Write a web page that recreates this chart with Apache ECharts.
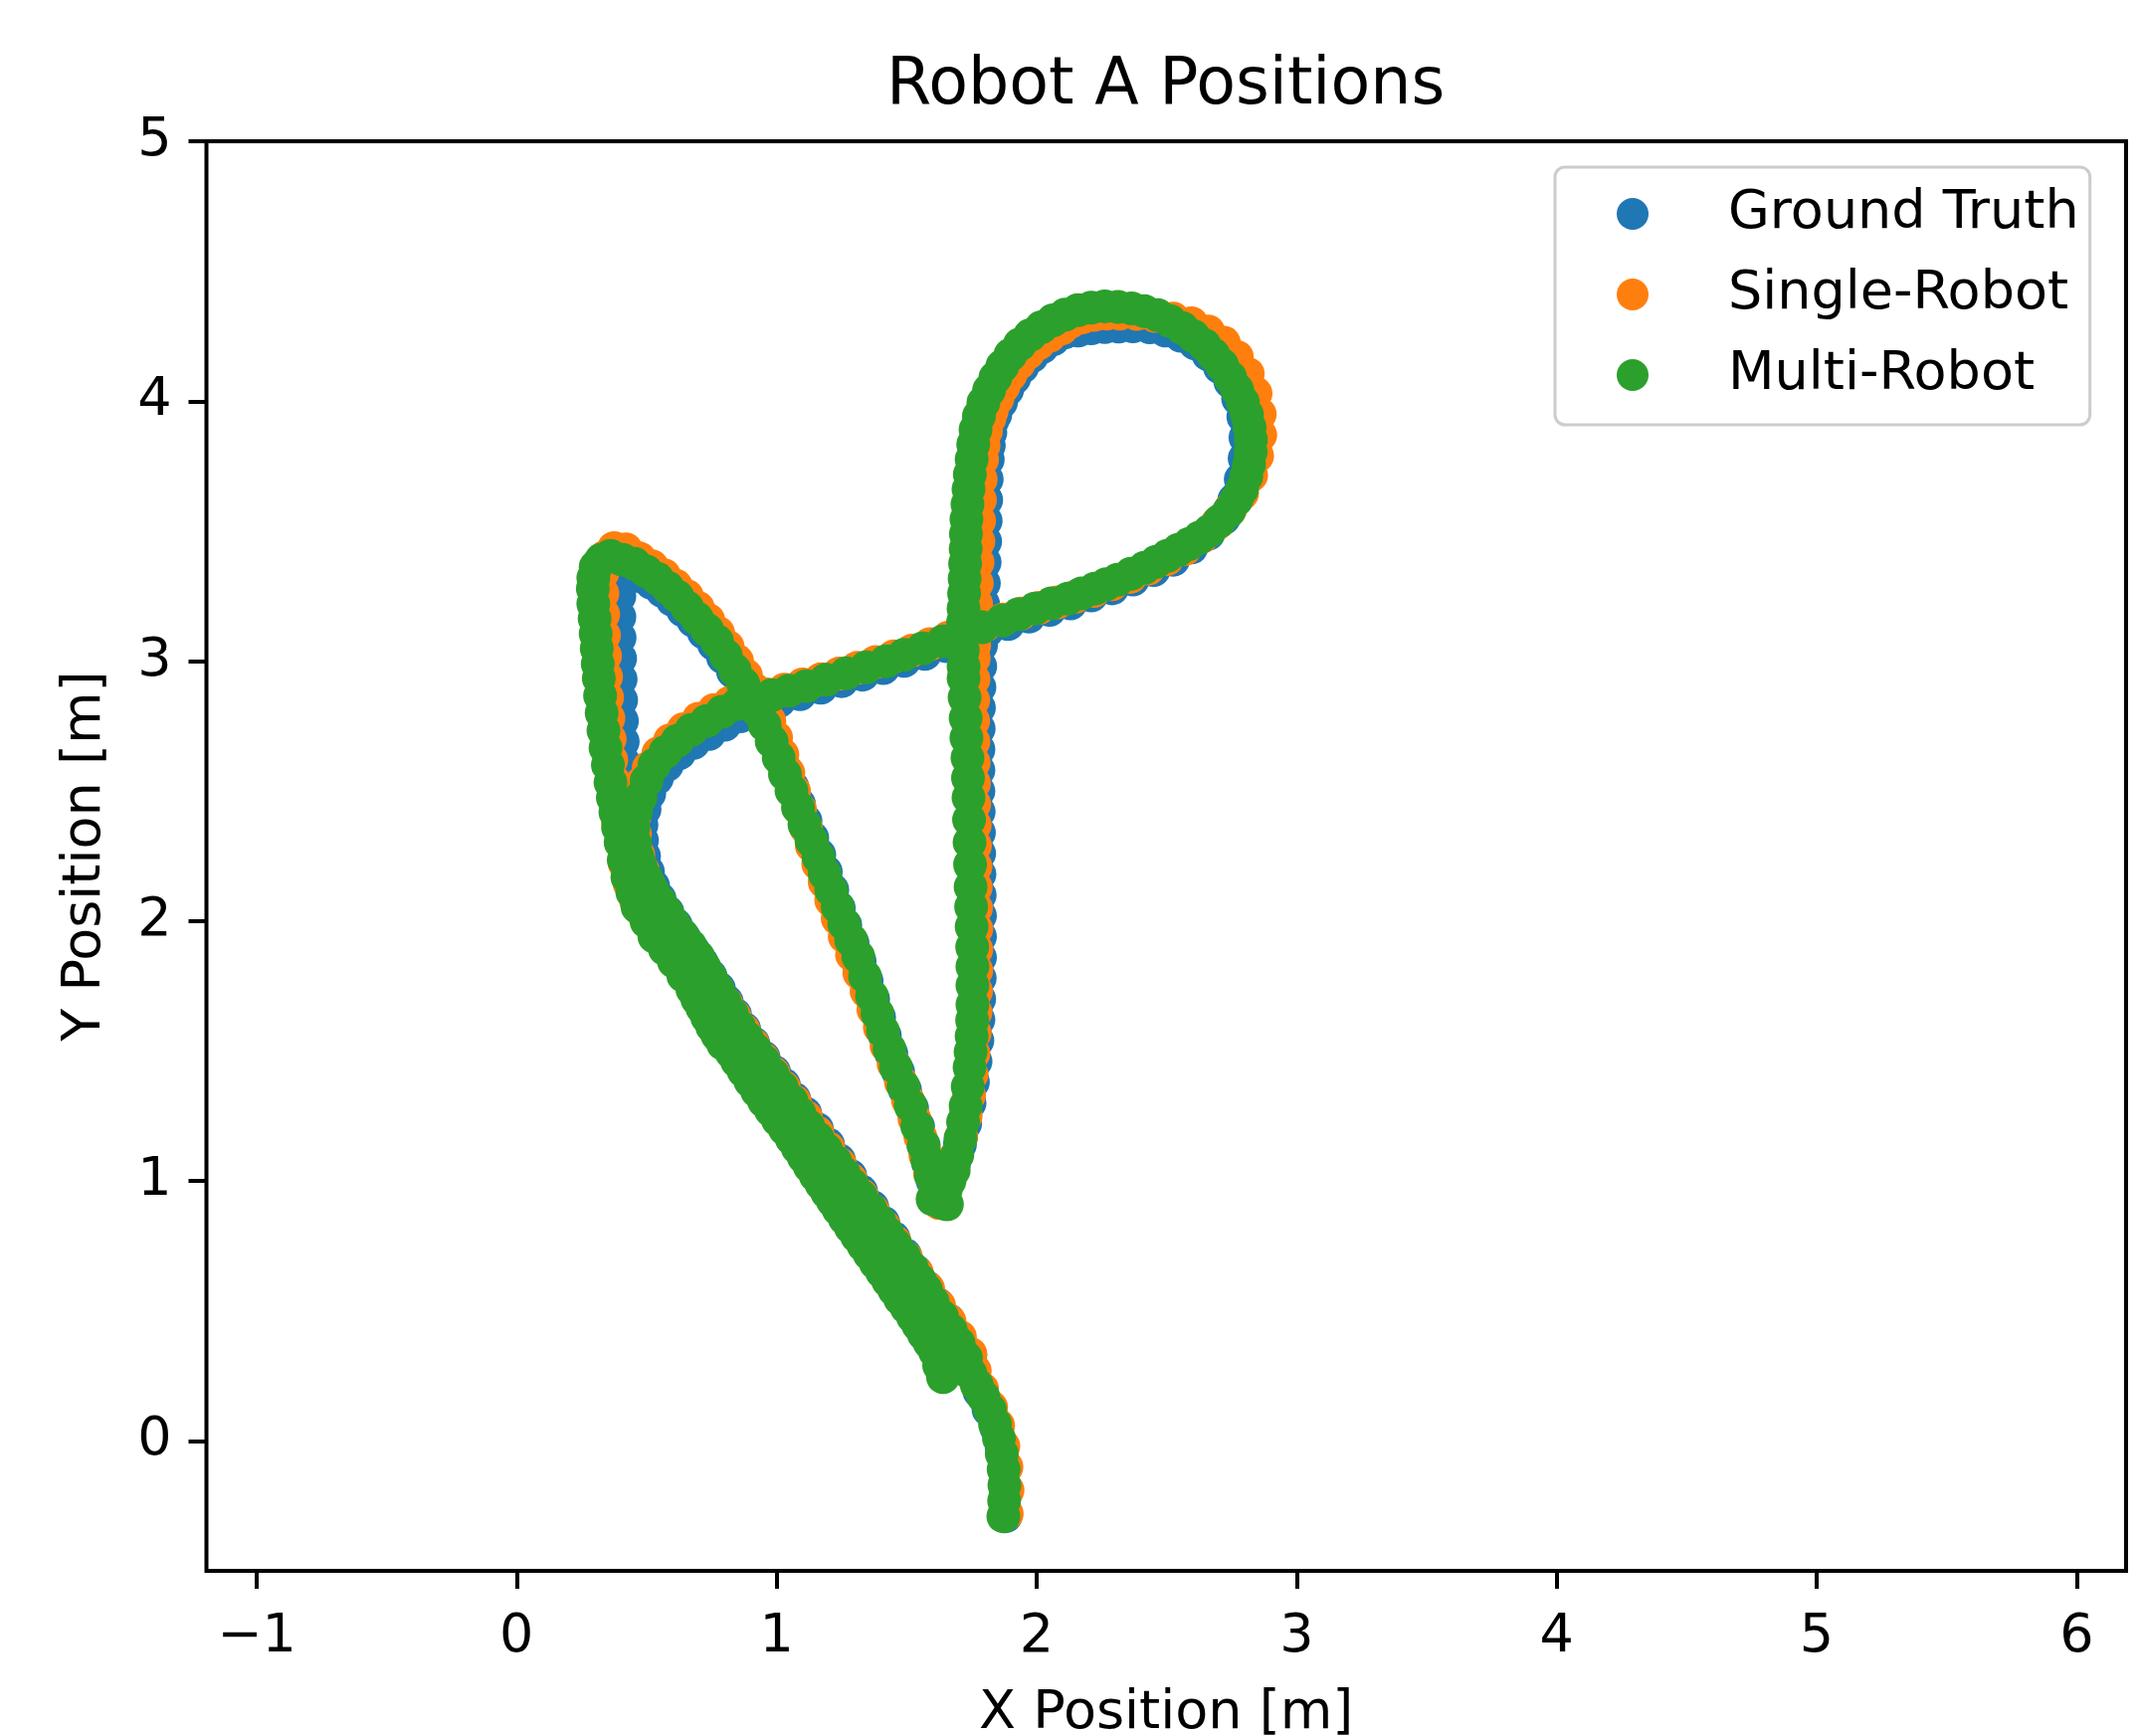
<!DOCTYPE html>
<html><head><meta charset="utf-8">
<script src="https://cdn.jsdelivr.net/npm/echarts@6/dist/echarts.min.js"></script>
<style>html,body{margin:0;padding:0;background:#fff}#c{width:2151px;height:1745px}</style>
</head><body><div id="c"></div>
<script>
const titleText = 'Robot A Positions';
const xAxisName = 'X Position [m]';
const yAxisName = 'Y Position [m]';
const seriesNames = ['Ground Truth', 'Single-Robot', 'Multi-Robot'];
const xTicks = [-1, 0, 1, 2, 3, 4, 5, 6];
const yTicks = [0, 1, 2, 3, 4, 5];

const groundTruth = [
[1.88,-0.29],[1.882,-0.20],[1.878,-0.11],[1.866,-0.03],[1.845,0.05],[1.815,0.12],[1.78,0.19],[1.755,0.26],
[1.745,0.33],[1.70,0.40],[1.66,0.465],[1.62,0.525],[1.578,0.59],[1.537,0.65],[1.494,0.715],[1.45,0.78],[1.41,0.84],[1.368,0.90],[1.325,0.96],[1.283,1.02],[1.24,1.08],[1.198,1.14],[1.155,1.20],[1.11,1.26],[1.068,1.315],[1.028,1.37],[0.99,1.42],[0.95,1.475],[0.91,1.53],[0.875,1.585],[0.84,1.64],[0.808,1.69],[0.778,1.74],[0.745,1.79],[0.712,1.84],[0.68,1.885],[0.645,1.935],[0.612,1.985],[0.58,2.035],[0.55,2.085],[0.525,2.135],[0.505,2.19],[0.49,2.25],[0.482,2.31],[0.48,2.37],[0.492,2.43],[0.51,2.49],[0.54,2.55],[0.578,2.60],[0.625,2.645],[0.68,2.685],[0.74,2.72],[0.80,2.755],[0.86,2.788],
[0.93,2.821],[1.01,2.847],[1.09,2.873],[1.17,2.898],[1.25,2.923],[1.33,2.948],[1.41,2.973],[1.49,3.001],[1.57,3.028],[1.65,3.058],[1.73,3.088],[1.81,3.117],[1.89,3.143],[1.97,3.171],[2.05,3.197],[2.13,3.222],[2.21,3.253],[2.29,3.28],[2.37,3.314],[2.45,3.35],[2.525,3.39],[2.595,3.437],[2.66,3.49],
[2.72,3.55],[2.76,3.62],[2.785,3.70],[2.80,3.78],[2.803,3.86],[2.795,3.94],[2.775,4.01],[2.745,4.075],[2.705,4.13],[2.66,4.18],[2.61,4.222],[2.555,4.252],[2.495,4.272],[2.435,4.284],[2.37,4.288],[2.315,4.287],[2.262,4.285],[2.21,4.28],[2.16,4.272],[2.109,4.265],[2.064,4.238],[2.021,4.208],[1.981,4.172],[1.945,4.132],[1.914,4.089],[1.887,4.044],[1.863,3.996],[1.841,3.948],[1.83,3.925],[1.822,3.88],[1.816,3.83],[1.812,3.775],[1.808,3.70],[1.806,3.62],[1.804,3.54],[1.802,3.46],[1.80,3.38],[1.797,3.30],[1.794,3.22],[1.79,3.14],[1.786,3.06],
[1.783,2.98],[1.78,2.90],[1.778,2.82],[1.777,2.74],[1.776,2.66],[1.776,2.58],[1.776,2.50],[1.777,2.42],[1.778,2.34],[1.779,2.26],[1.78,2.18],[1.781,2.10],[1.782,2.02],[1.782,1.94],[1.782,1.86],[1.781,1.78],[1.779,1.70],[1.776,1.62],[1.772,1.54],[1.765,1.46],[1.755,1.38],[1.742,1.30],[1.725,1.22],[1.705,1.14],[1.682,1.065],[1.657,0.995],[1.632,0.935],
[1.62,0.93],[1.60,1.0],[1.582,1.07],[1.564,1.14],[1.544,1.21],[1.521,1.28],[1.494,1.35],[1.467,1.42],[1.441,1.49],[1.416,1.56],[1.394,1.63],[1.371,1.70],[1.346,1.77],[1.319,1.845],[1.292,1.915],[1.264,1.985],[1.239,2.05],[1.214,2.12],[1.189,2.19],[1.164,2.255],[1.137,2.32],[1.111,2.385],[1.086,2.45],[1.061,2.515],[1.036,2.58],[1.011,2.64],[0.984,2.70],[0.956,2.76],[0.929,2.81],[0.899,2.86],[0.866,2.91],[0.832,2.96],[0.794,3.015],[0.759,3.065],[0.72,3.11],[0.68,3.155],[0.64,3.195],[0.60,3.235],[0.56,3.27],[0.52,3.30],[0.48,3.325],
[0.445,3.335],[0.41,3.31],[0.395,3.25],[0.395,3.17],[0.396,3.09],[0.398,3.01],[0.40,2.93],[0.402,2.85],[0.405,2.77],[0.408,2.69],[0.412,2.61],[0.418,2.53],[0.425,2.45],[0.433,2.37],[0.443,2.29],[0.455,2.21],[0.47,2.14],
[0.49,2.07],[0.515,2.01],[0.55,1.955],[0.593,1.90],[0.63,1.85],[0.668,1.795],[0.705,1.74],[0.74,1.685],[0.777,1.63],[0.815,1.572],[0.862,1.513],[0.91,1.455],[0.95,1.397],[0.99,1.34],[1.032,1.28],[1.075,1.22],[1.117,1.16],[1.16,1.10],[1.203,1.04],[1.245,0.98],[1.287,0.92],[1.33,0.86],[1.373,0.80],[1.415,0.74],[1.457,0.68],[1.50,0.62],[1.542,0.56],[1.583,0.50],[1.623,0.44],[1.65,0.38],[1.665,0.32]
];

const singleRobot = [
[1.885,-0.28],[1.888,-0.19],[1.884,-0.10],[1.872,-0.02],[1.852,0.06],[1.825,0.13],[1.79,0.20],[1.762,0.27],
[1.745,0.335],[1.705,0.40],[1.665,0.46],[1.625,0.52],[1.583,0.585],[1.54,0.645],[1.498,0.705],[1.455,0.765],[1.413,0.825],[1.37,0.885],[1.327,0.945],[1.285,1.005],[1.243,1.065],[1.20,1.125],[1.157,1.185],[1.113,1.245],[1.07,1.305],[1.028,1.36],[0.988,1.415],[0.948,1.47],[0.91,1.525],[0.873,1.58],[0.838,1.635],[0.805,1.685],[0.773,1.735],[0.74,1.785],[0.705,1.835],[0.67,1.885],[0.635,1.935],[0.60,1.985],[0.565,2.035],[0.535,2.085],[0.508,2.14],[0.485,2.195],[0.468,2.255],
[0.455,2.335],[0.452,2.40],[0.462,2.465],[0.48,2.53],[0.508,2.59],[0.545,2.645],[0.59,2.695],[0.642,2.738],[0.70,2.778],[0.76,2.812],[0.82,2.84],
[0.89,2.855],[0.96,2.872],[1.03,2.89],[1.10,2.91],[1.17,2.93],[1.24,2.952],[1.31,2.974],[1.38,2.996],[1.45,3.018],[1.52,3.04],[1.59,3.065],[1.66,3.09],[1.73,3.113],[1.80,3.136],[1.87,3.16],[1.94,3.183],[2.01,3.205],[2.08,3.226],[2.15,3.248],[2.22,3.27],[2.29,3.296],[2.36,3.324],[2.43,3.356],[2.50,3.392],[2.57,3.432],[2.635,3.478],[2.695,3.53],
[2.745,3.585],[2.79,3.645],[2.825,3.715],[2.848,3.79],[2.86,3.87],[2.858,3.95],[2.842,4.03],[2.812,4.105],[2.77,4.17],[2.72,4.225],[2.66,4.268],[2.595,4.30],[2.525,4.318],[2.455,4.328],[2.385,4.336],[2.32,4.337],[2.27,4.337],[2.22,4.332],[2.175,4.322],[2.13,4.305],[2.095,4.279],[2.05,4.252],[2.007,4.222],[1.967,4.186],[1.931,4.146],[1.90,4.103],[1.873,4.058],[1.849,4.01],[1.827,3.962],[1.818,3.933],[1.805,3.885],[1.796,3.83],[1.79,3.775],[1.785,3.70],[1.782,3.62],[1.779,3.54],[1.776,3.46],[1.773,3.38],[1.77,3.30],[1.767,3.22],[1.763,3.14],[1.76,3.06],
[1.758,3.01],[1.757,2.93],[1.756,2.85],[1.756,2.77],[1.757,2.69],[1.758,2.61],[1.759,2.53],[1.76,2.45],[1.762,2.37],[1.763,2.29],[1.765,2.21],[1.766,2.13],[1.767,2.05],[1.768,1.97],[1.768,1.89],[1.768,1.81],[1.767,1.73],[1.765,1.65],[1.762,1.57],[1.757,1.49],[1.75,1.41],[1.74,1.33],[1.727,1.25],[1.71,1.17],[1.69,1.095],[1.667,1.025],[1.645,0.96],[1.625,0.915],
[1.61,0.96],[1.59,1.03],[1.572,1.10],[1.553,1.17],[1.53,1.24],[1.505,1.31],[1.478,1.38],[1.45,1.45],[1.423,1.52],[1.397,1.59],[1.372,1.66],[1.346,1.73],[1.318,1.80],[1.29,1.87],[1.262,1.94],[1.235,2.01],[1.21,2.08],[1.185,2.15],[1.16,2.22],[1.135,2.29],[1.112,2.36],[1.09,2.43],[1.067,2.50],[1.045,2.57],[1.022,2.64],[0.998,2.705],[0.972,2.77],[0.945,2.83],[0.915,2.89],[0.882,2.945],[0.848,3.0],[0.812,3.055],[0.775,3.108],[0.737,3.158],[0.697,3.205],[0.655,3.25],[0.612,3.29],[0.567,3.33],[0.52,3.365],[0.472,3.395],[0.42,3.43],[0.375,3.435],
[0.34,3.40],[0.33,3.34],[0.33,3.26],[0.333,3.18],[0.336,3.10],[0.34,3.02],[0.344,2.94],[0.348,2.86],[0.353,2.78],[0.358,2.70],[0.364,2.62],[0.372,2.54],[0.38,2.46],[0.39,2.38],[0.402,2.30],[0.416,2.22],[0.434,2.145],
[0.46,2.075],[0.495,2.015],[0.532,1.96],[0.571,1.905],[0.612,1.85],[0.648,1.795],[0.685,1.74],[0.723,1.68],[0.762,1.62],[0.802,1.56],[0.85,1.50],[0.90,1.44],[0.941,1.38],[0.982,1.322],[1.025,1.262],[1.067,1.203],[1.11,1.143],[1.153,1.083],[1.195,1.023],[1.238,0.963],[1.28,0.903],[1.322,0.843],[1.365,0.783],[1.407,0.723],[1.45,0.663],[1.492,0.603],[1.535,0.543],[1.575,0.483],[1.61,0.423],[1.635,0.36],[1.65,0.30]
];

const multiRobot = [
[1.872,-0.29],[1.875,-0.23],[1.876,-0.17],[1.873,-0.11],[1.866,-0.05],[1.855,0.01],[1.84,0.065],[1.82,0.12],[1.795,0.17],[1.77,0.215],[1.745,0.26],
[1.728,0.32],[1.70,0.375],[1.67,0.425],[1.636,0.478],[1.60,0.535],[1.575,0.58],[1.552,0.616],[1.52,0.665],[1.49,0.71],[1.457,0.754],[1.425,0.80],[1.395,0.845],[1.361,0.891],[1.325,0.94],[1.29,0.985],[1.258,1.029],[1.225,1.075],[1.19,1.12],[1.158,1.163],[1.122,1.21],[1.088,1.26],[1.057,1.308],[1.02,1.36],[0.985,1.41],[0.95,1.461],[0.918,1.505],[0.886,1.55],[0.855,1.595],[0.828,1.642],[0.80,1.69],[0.774,1.737],[0.748,1.78],[0.722,1.822],[0.698,1.863],[0.668,1.905],[0.637,1.947],[0.606,1.989],[0.578,2.033],[0.55,2.076],[0.522,2.119],[0.50,2.162],[0.478,2.205],[0.465,2.246],[0.455,2.30],[0.449,2.36],[0.458,2.42],[0.476,2.475],[0.50,2.54],[0.53,2.601],[0.572,2.65],[0.618,2.693],[0.672,2.735],[0.732,2.77],[0.79,2.805],[0.851,2.835],
[0.915,2.853],[0.981,2.869],[1.048,2.886],[1.115,2.904],[1.19,2.928],[1.268,2.953],[1.345,2.976],[1.421,2.999],[1.49,3.024],[1.562,3.049],[1.64,3.076],[1.715,3.103],[1.79,3.13],[1.868,3.156],[1.93,3.18],[1.994,3.202],[2.057,3.222],[2.12,3.24],[2.172,3.26],[2.224,3.279],[2.268,3.296],[2.312,3.313],[2.363,3.336],[2.415,3.359],[2.46,3.382],[2.503,3.405],[2.545,3.428],[2.587,3.451],[2.626,3.475],[2.664,3.50],
[2.703,3.538],[2.74,3.577],[2.768,3.62],[2.79,3.661],[2.806,3.71],[2.817,3.757],[2.823,3.805],[2.824,3.852],[2.819,3.90],[2.809,3.948],[2.793,3.996],[2.771,4.044],[2.744,4.092],[2.713,4.139],[2.68,4.178],[2.645,4.216],[2.603,4.25],[2.56,4.281],[2.513,4.308],[2.465,4.331],[2.415,4.346],[2.365,4.357],[2.313,4.363],[2.262,4.365],[2.21,4.36],[2.159,4.35],[2.11,4.333],[2.063,4.311],[2.018,4.284],[1.975,4.254],[1.935,4.218],[1.899,4.178],[1.868,4.135],[1.841,4.09],[1.817,4.042],[1.795,3.994],[1.778,3.943],[1.765,3.891],[1.756,3.834],[1.75,3.776],[1.743,3.718],[1.738,3.661],[1.734,3.603],[1.73,3.546],[1.728,3.489],[1.727,3.432],[1.725,3.375],[1.723,3.317],[1.721,3.26],[1.719,3.202],[1.717,3.15],[1.715,3.103],
[1.716,3.04],[1.719,2.98],[1.719,2.934],[1.723,2.86],[1.727,2.781],[1.73,2.705],[1.734,2.628],[1.736,2.55],[1.738,2.475],[1.74,2.39],[1.742,2.303],[1.744,2.217],[1.746,2.131],[1.748,2.055],[1.75,1.978],[1.752,1.90],[1.753,1.825],[1.753,1.752],[1.753,1.679],[1.752,1.618],[1.75,1.557],[1.746,1.497],[1.742,1.438],[1.735,1.363],[1.727,1.289],[1.717,1.226],[1.707,1.163],[1.695,1.10],[1.681,1.041],[1.665,1.0],[1.65,0.964],[1.631,0.918],[1.655,0.91],[1.60,0.93],
[1.612,0.97],[1.593,1.021],[1.58,1.08],[1.566,1.136],[1.541,1.21],[1.516,1.289],[1.488,1.363],[1.459,1.438],[1.434,1.507],[1.409,1.576],[1.388,1.643],[1.367,1.71],[1.34,1.787],[1.314,1.863],[1.287,1.926],[1.26,1.989],[1.235,2.054],[1.21,2.119],[1.185,2.182],[1.161,2.246],[1.134,2.309],[1.107,2.372],[1.082,2.437],[1.057,2.502],[1.032,2.565],[1.008,2.628],[0.981,2.691],[0.954,2.754],[0.929,2.806],[0.904,2.858],[0.872,2.912],[0.839,2.965],[0.805,3.02],[0.771,3.076],[0.733,3.12],[0.694,3.164],[0.656,3.206],[0.618,3.248],[0.58,3.283],[0.541,3.317],[0.497,3.346],[0.453,3.374],[0.407,3.39],[0.361,3.405],
[0.325,3.39],[0.304,3.363],[0.295,3.32],[0.293,3.279],[0.295,3.22],[0.30,3.164],[0.304,3.105],[0.308,3.049],[0.312,2.99],[0.316,2.934],[0.321,2.867],[0.327,2.80],[0.334,2.733],[0.342,2.666],[0.351,2.60],[0.361,2.533],[0.37,2.475],[0.38,2.418],[0.39,2.36],[0.40,2.303],[0.412,2.236],[0.426,2.169],[0.445,2.11],
[0.465,2.054],[0.50,1.997],[0.53,1.94],[0.57,1.892],[0.605,1.844],[0.641,1.79],[0.676,1.737],[0.695,1.70],[0.714,1.666],[0.733,1.63],[0.752,1.595],[0.772,1.562],[0.794,1.528],[0.826,1.495],[0.848,1.461],[0.873,1.423],[0.899,1.384],[0.925,1.346],[0.951,1.308],[0.978,1.272],[1.005,1.235],[1.032,1.199],[1.058,1.163],[1.081,1.128],[1.104,1.092],[1.127,1.057],[1.15,1.021],[1.172,0.989],[1.194,0.956],[1.216,0.924],[1.238,0.891],[1.262,0.856],[1.285,0.822],[1.309,0.788],[1.333,0.754],[1.357,0.72],[1.381,0.685],[1.405,0.651],[1.429,0.616],[1.452,0.582],[1.475,0.547],[1.50,0.513],[1.524,0.478],[1.545,0.445],[1.566,0.411],[1.588,0.378],[1.609,0.344],[1.625,0.29],[1.64,0.245]
];

const FONT = 'DejaVu Sans';
const colors = ['#1f77b4', '#ff7f0e', '#2ca02c'];
const seriesData = [groundTruth, singleRobot, multiRobot];
const fmt = v => (v < 0 ? '\u2212' + Math.abs(v) : String(v));

const chart = echarts.init(document.getElementById('c'), null, {renderer: 'canvas', width: 2151, height: 1745});
chart.setOption({
  animation: false,
  backgroundColor: '#ffffff',
  title: {
    text: titleText, left: 891, top: 55, padding: 0,
    textStyle: {fontFamily: FONT, fontSize: 65, fontWeight: 'normal', color: '#000'}
  },
  legend: {
    orient: 'vertical', left: 1563, top: 168, padding: [20, 11, 23, 62],
    itemWidth: 32, itemHeight: 32, itemGap: 27, icon: 'circle',
    backgroundColor: 'rgba(255,255,255,0.8)', borderColor: '#cccccc', borderWidth: 3, borderRadius: 10,
    textStyle: {fontFamily: FONT, fontSize: 54, color: '#000', lineHeight: 54, padding: [0, 0, 0, 75]},
    data: seriesNames, selectedMode: false
  },
  grid: {left: 207.5, right: 14, top: 142, bottom: 166, show: true, borderColor: '#000', borderWidth: 4, backgroundColor: 'transparent', outerBoundsMode: 'none', containLabel: false},
  xAxis: {
    type: 'value', min: -1.193, max: 6.19,
    splitLine: {show: false}, axisLine: {show: false, onZero: false},
    axisTick: {show: true, length: 18, lineStyle: {color: '#000', width: 4}, customValues: xTicks},
    axisLabel: {customValues: xTicks, margin: 40, fontSize: 54, fontFamily: FONT, color: '#000', formatter: fmt},
    name: xAxisName, nameLocation: 'middle', nameGap: 117,
    nameTextStyle: {fontFamily: FONT, fontSize: 54, color: '#000'}
  },
  yAxis: {
    type: 'value', min: -0.5, max: 5,
    splitLine: {show: false}, axisLine: {show: false, onZero: false},
    axisTick: {show: true, length: 18, lineStyle: {color: '#000', width: 4}, customValues: yTicks},
    axisLabel: {customValues: yTicks, margin: 35, fontSize: 54, fontFamily: FONT, color: '#000', formatter: fmt},
    name: yAxisName, nameLocation: 'middle', nameGap: 95, nameRotate: 90,
    nameTextStyle: {fontFamily: FONT, fontSize: 54, color: '#000'}
  },
  series: seriesNames.map((n, i) => ({
    type: 'scatter', name: n, data: seriesData[i], symbol: 'circle', symbolSize: 34,
    itemStyle: {color: colors[i], opacity: 1}, emphasis: {disabled: true}, silent: true
  }))
});
</script></body></html>
